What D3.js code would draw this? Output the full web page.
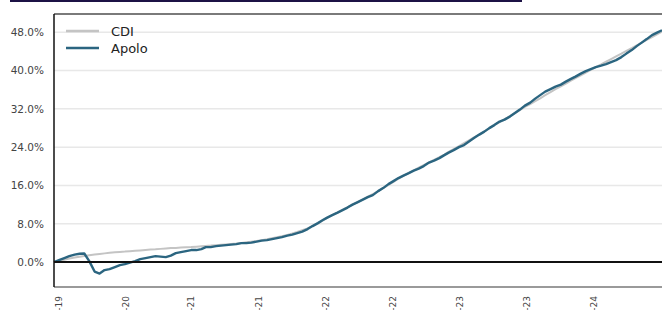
<!DOCTYPE html>
<html>
<head>
<meta charset="utf-8">
<script src="https://cdn.jsdelivr.net/npm/d3@7"></script>
<style>
  html, body { margin: 0; padding: 0; background: #fff; }
  svg { display: block; }
</style>
</head>
<body>
<div id="chart"></div>
<script>
// semi-monthly observations
var dates = [
  "2019-12-01","2019-12-16","2020-01-01","2020-01-16","2020-02-01","2020-02-16","2020-03-01","2020-03-16","2020-04-01","2020-04-16",
  "2020-05-01","2020-05-16","2020-06-01","2020-06-16","2020-07-01","2020-07-16","2020-08-01","2020-08-16","2020-09-01","2020-09-16",
  "2020-10-01","2020-10-16","2020-11-01","2020-11-16","2020-12-01","2020-12-16","2021-01-01","2021-01-16","2021-02-01","2021-02-16",
  "2021-03-01","2021-03-16","2021-04-01","2021-04-16","2021-05-01","2021-05-16","2021-06-01","2021-06-16","2021-07-01","2021-07-16",
  "2021-08-01","2021-08-16","2021-09-01","2021-09-16","2021-10-01","2021-10-16","2021-11-01","2021-11-16","2021-12-01","2021-12-16",
  "2022-01-01","2022-01-16","2022-02-01","2022-02-16","2022-03-01","2022-03-16","2022-04-01","2022-04-16","2022-05-01","2022-05-16",
  "2022-06-01","2022-06-16","2022-07-01","2022-07-16","2022-08-01","2022-08-16","2022-09-01","2022-09-16","2022-10-01","2022-10-16",
  "2022-11-01","2022-11-16","2022-12-01","2022-12-16","2023-01-01","2023-01-16","2023-02-01","2023-02-16","2023-03-01","2023-03-16",
  "2023-04-01","2023-04-16","2023-05-01","2023-05-16","2023-06-01","2023-06-16","2023-07-01","2023-07-16","2023-08-01","2023-08-16",
  "2023-09-01","2023-09-16","2023-10-01","2023-10-16","2023-11-01","2023-11-16","2023-12-01","2023-12-16","2024-01-01","2024-01-16",
  "2024-02-01","2024-02-16","2024-03-01","2024-03-16","2024-04-01","2024-04-16","2024-05-01","2024-05-16","2024-06-01","2024-06-16",
  "2024-07-01","2024-07-16","2024-08-01","2024-08-16","2024-09-01","2024-09-16","2024-10-01","2024-10-16","2024-11-01","2024-11-16",
  "2024-12-01"
];

// cumulative return, %
var cdi = [
  0.00, 0.25, 0.50, 0.75, 0.96, 1.13, 1.27, 1.42, 1.57, 1.69,
  1.82, 1.94, 2.05, 2.13, 2.19, 2.28, 2.36, 2.44, 2.53, 2.61,
  2.67, 2.76, 2.84, 2.92, 2.96, 3.03, 3.09, 3.13, 3.22, 3.30,
  3.38, 3.44, 3.53, 3.61, 3.70, 3.78, 3.88, 4.00, 4.12, 4.25,
  4.40, 4.58, 4.76, 4.96, 5.18, 5.42, 5.68, 5.96, 6.28, 6.64,
  7.05, 7.55, 8.10, 8.70, 9.25, 9.80, 10.35, 10.90, 11.45, 12.00,
  12.55, 13.10, 13.65, 14.20, 14.80, 15.45, 16.10, 16.75, 17.40, 18.00,
  18.60, 19.15, 19.70, 20.25, 20.80, 21.35, 21.90, 22.45, 23.00, 23.60,
  24.22, 24.82, 25.42, 26.03, 26.64, 27.25, 27.90, 28.60, 29.20, 29.85,
  30.50, 31.10, 31.75, 32.40, 33.00, 33.60, 34.20, 34.85, 35.50, 36.10,
  36.70, 37.27, 37.84, 38.41, 38.98, 39.55, 40.12, 40.69, 41.26, 41.83,
  42.40, 42.97, 43.54, 44.11, 44.68, 45.25, 45.82, 46.39, 46.96, 47.53,
  48.10
];

var apolo = [
  0.00, 0.42, 0.84, 1.25, 1.57, 1.75, 1.80, 0.21, -1.98, -2.40,
  -1.67, -1.46, -1.04, -0.63, -0.42, -0.10, 0.21, 0.63, 0.84, 1.04,
  1.25, 1.15, 1.04, 1.36, 1.88, 2.09, 2.30, 2.51, 2.51, 2.71,
  3.13, 3.13, 3.34, 3.44, 3.55, 3.65, 3.76, 3.97, 3.97, 4.07,
  4.28, 4.49, 4.59, 4.80, 5.01, 5.22, 5.53, 5.74, 6.05, 6.37,
  6.89, 7.52, 8.14, 8.77, 9.29, 9.81, 10.33, 10.86, 11.38, 12.00,
  12.53, 13.05, 13.57, 13.99, 14.82, 15.45, 16.28, 16.91, 17.54, 18.06,
  18.58, 19.10, 19.52, 20.04, 20.77, 21.19, 21.71, 22.34, 22.86, 23.38,
  24.01, 24.43, 25.16, 25.89, 26.62, 27.24, 27.97, 28.60, 29.33, 29.75,
  30.38, 31.11, 31.84, 32.67, 33.30, 34.13, 34.86, 35.59, 36.12, 36.64,
  37.06, 37.68, 38.20, 38.73, 39.35, 39.87, 40.29, 40.71, 41.02, 41.34,
  41.75, 42.17, 42.80, 43.53, 44.26, 45.09, 45.82, 46.56, 47.39, 47.90,
  48.40
];

var yTicks = [0, 8, 16, 24, 32, 40, 48];
var tickDates = ["2019-12-13","2020-07-01","2021-01-15","2021-08-07","2022-02-24","2022-09-13","2023-04-02","2023-10-20","2024-05-08"];
var tickLabels = ["dez-19","jul-20","jan-21","ago-21","fev-22","set-22","abr-23","out-23","mai-24"];

var seriesNames = ["CDI", "Apolo"];
var seriesColors = ["#c4c4c4", "#2b6580"];

var W = 662, H = 310;
var margin = {top: 14, right: 0, bottom: 23, left: 54};
var width = W - margin.left - margin.right,
    height = H - margin.top - margin.bottom;

var parse = d3.timeParse("%Y-%m-%d");
var points = dates.map(function(d, i) {
    return {date: parse(d), cdi: cdi[i], apolo: apolo[i]};
});

var x = d3.scaleTime()
    .domain(d3.extent(points, function(d) { return d.date; }))
    .range([0, width]);
var y = d3.scaleLinear().domain([-5.2, 51.8]).range([height, 0]);

var svg = d3.select("#chart").append("svg").attr("width", W).attr("height", H)
    .style("font-family", "'DejaVu Sans', Verdana, sans-serif");

// cropped link underline at the very top
svg.append("rect").attr("x", 10).attr("y", 0).attr("width", 512).attr("height", 2).attr("fill", "#1c1245");

var g = svg.append("g").attr("transform", "translate(" + margin.left + "," + margin.top + ")");

// grid
g.append("g").selectAll("line").data(yTicks.filter(function(t) { return t !== 0; })).enter().append("line")
    .attr("x1", 0).attr("x2", width)
    .attr("y1", function(d) { return y(d); }).attr("y2", function(d) { return y(d); })
    .attr("stroke", "#e8e8e8").attr("stroke-width", 1.5);

// frame
g.append("line").attr("x1", 0).attr("x2", width).attr("y1", 0).attr("y2", 0)
    .attr("stroke", "#7a7a7a").attr("stroke-width", 2);
g.append("line").attr("x1", 0).attr("x2", width).attr("y1", height).attr("y2", height)
    .attr("stroke", "#9a9a9a").attr("stroke-width", 2);

// y axis
var yAxis = d3.axisLeft(y).tickValues(yTicks).tickSize(0).tickPadding(10)
    .tickFormat(function(d) { return d3.format(".1f")(d) + "%"; });
var ya = g.append("g").call(yAxis);
ya.select(".domain").remove();
ya.selectAll("text").attr("fill", "#444").style("font-size", "10.5px")
    .style("font-family", "'DejaVu Sans', Verdana, sans-serif");

// x axis labels (rotated, cut by the bottom edge)
var xAxis = d3.axisBottom(x).tickValues(tickDates.map(parse)).tickSize(0).tickPadding(0)
    .tickFormat(function(d, i) { return tickLabels[i]; });
var xa = g.append("g").attr("transform", "translate(0," + height + ")").call(xAxis);
xa.select(".domain").remove();
xa.selectAll("text")
    .attr("fill", "#444")
    .style("font-size", "9px")
    .style("font-family", "'DejaVu Sans', Verdana, sans-serif")
    .attr("text-anchor", "end")
    .attr("transform", "translate(0,9) rotate(-90)")
    .attr("x", 0).attr("y", 0).attr("dy", "0.35em");

// lines
var lineCdi = d3.line().x(function(d) { return x(d.date); }).y(function(d) { return y(d.cdi); });
var lineApolo = d3.line().x(function(d) { return x(d.date); }).y(function(d) { return y(d.apolo); });

g.append("path").datum(points).attr("d", lineCdi)
    .attr("fill", "none").attr("stroke", seriesColors[0]).attr("stroke-width", 2);
g.append("path").datum(points).attr("d", lineApolo)
    .attr("fill", "none").attr("stroke", seriesColors[1]).attr("stroke-width", 2.4)
    .attr("stroke-linejoin", "round");

// zero line and left axis
g.append("line").attr("x1", 0).attr("x2", width).attr("y1", y(0)).attr("y2", y(0))
    .attr("stroke", "#111").attr("stroke-width", 2);
g.append("line").attr("x1", 0).attr("x2", 0).attr("y1", 0).attr("y2", height)
    .attr("stroke", "#111").attr("stroke-width", 1.5);

// legend
var legend = g.selectAll(".legend").data(seriesNames).enter().append("g").attr("class", "legend")
    .attr("transform", function(d, i) { return "translate(12," + (17 + i * 17) + ")"; });
legend.append("line").attr("x1", 0).attr("x2", 33).attr("y1", 0).attr("y2", 0)
    .attr("stroke", function(d, i) { return seriesColors[i]; }).attr("stroke-width", 2.5);
legend.append("text").attr("x", 45).attr("y", 0).attr("dy", "0.35em")
    .style("font-size", "13px").attr("fill", "#222")
    .text(function(d) { return d; });
</script>
</body>
</html>
